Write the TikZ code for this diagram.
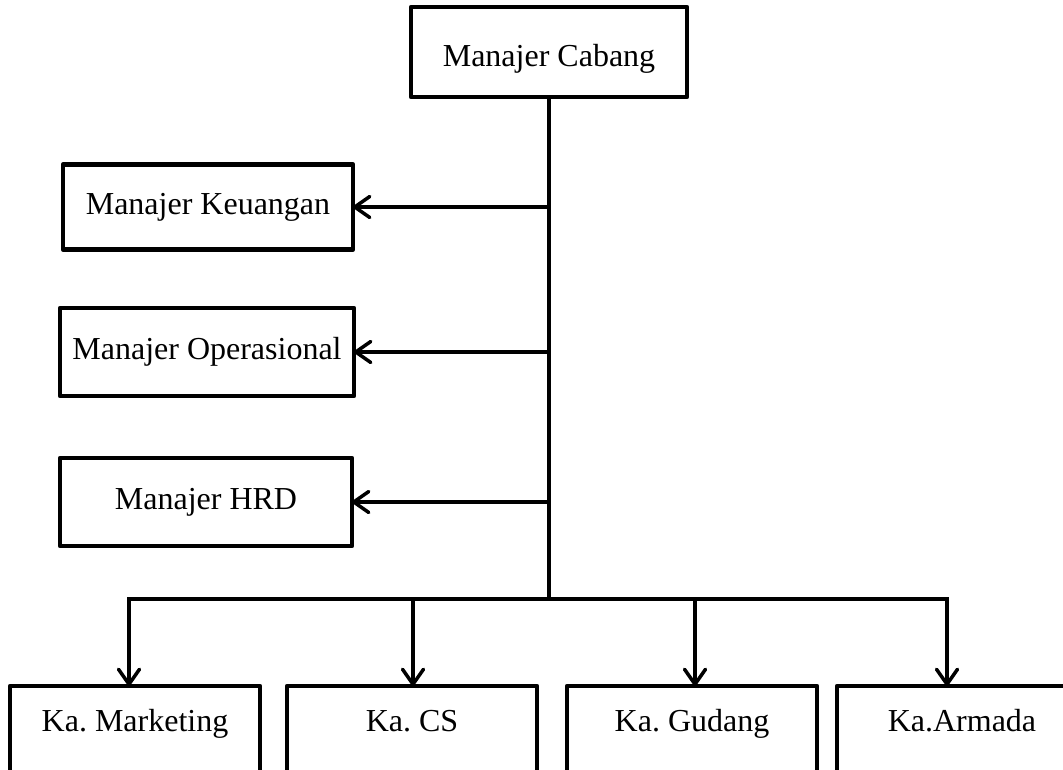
\documentclass[tikz,border=0pt]{standalone}
\usepackage{fontspec}
\setmainfont{Liberation Serif}
\usetikzlibrary{arrows.meta}
\frenchspacing
\begin{document}
\begin{tikzpicture}[x=1pt,y=-1pt,
  box/.style={draw, line width=4.8pt, line join=round, inner sep=0pt, outer sep=0pt,
    font=\fontsize{32}{37}\selectfont},
  bbox/.style={box, minimum width=250pt, anchor=north, text height=45pt, text depth=90pt},
  conn/.style={line width=3.8pt},
  arr/.style={line width=3.5pt, -{Straight Barb[length=15pt,width=21pt,round]}}]
\clip (0,0) rectangle (1063,769);
\fill[white] (0,0) rectangle (1063,769);
% top
\node[box, minimum width=276pt, text height=59pt, text depth=31pt] (cab) at (549,52) {Manajer Cabang};
% side boxes
\node[box, minimum width=290pt, minimum height=85pt] (keu) at (208,207) {Manajer Keuangan};
\node[box, minimum width=294pt, minimum height=88pt] (ops) at (207,352) {Manajer Operasional};
\node[box, minimum width=292pt, minimum height=88pt] (hrd) at (206,502) {Manajer HRD};
% bottom boxes
\node[bbox] (mkt) at (135,686) {Ka. Marketing};
\node[bbox] (cs)  at (412,686) {Ka. CS};
\node[bbox] (gud) at (692,686) {Ka. Gudang};
\node[bbox] (arm) at (962,686) {Ka.Armada};
% bus coordinates
\coordinate (hb) at (549,599);
\coordinate (b1) at (129,599);
\coordinate (b2) at (413,599);
\coordinate (b3) at (695,599);
\coordinate (b4) at (947,599);
% main trunk
\draw[conn] (cab.south) -- (hb);
\draw[conn, line cap=rect] (b1) -- (b4);
% side arrows
\draw[arr] (cab.south |- keu.east) -- (keu.east);
\draw[arr] (cab.south |- ops.east) -- (ops.east);
\draw[arr] (cab.south |- hrd.east) -- (hrd.east);
% bottom arrows
\draw[arr] (b1) -- (b1 |- mkt.north);
\draw[arr] (b2) -- (b2 |- cs.north);
\draw[arr] (b3) -- (b3 |- gud.north);
\draw[arr] (b4) -- (b4 |- arm.north);
\end{tikzpicture}
\end{document}
